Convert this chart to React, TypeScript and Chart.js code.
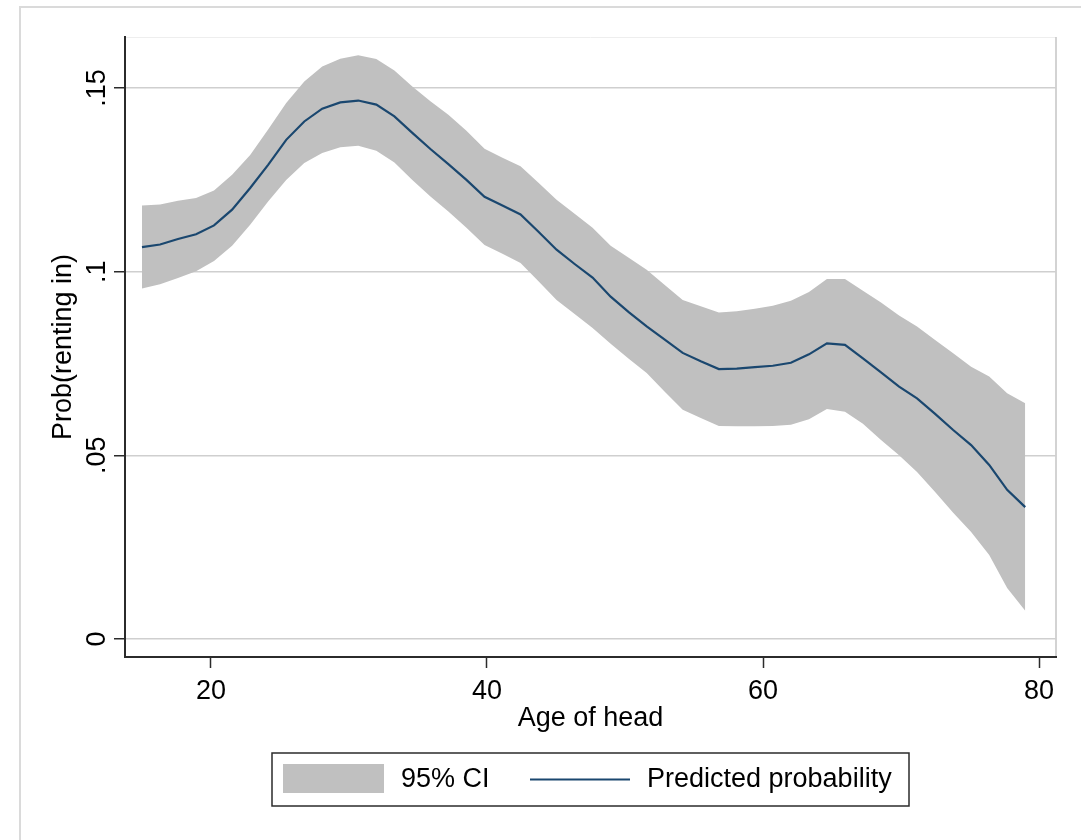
import React, { useEffect, useRef } from 'react';
import { Chart, registerables } from 'chart.js';

Chart.register(...registerables);

// ---------- data ----------
const ages = [
  15.0, 16.31, 17.61, 18.92, 20.22, 21.53, 22.84, 24.14, 25.45, 26.76,
  28.06, 29.37, 30.67, 31.98, 33.29, 34.59, 35.9, 37.2, 38.51, 39.82,
  41.12, 42.43, 43.73, 45.04, 46.35, 47.65, 48.96, 50.27, 51.57, 52.88,
  54.18, 55.49, 56.8, 58.1, 59.41, 60.71, 62.02, 63.33, 64.63, 65.94,
  67.24, 68.55, 69.86, 71.16, 72.47, 73.78, 75.08, 76.39, 77.69, 79.0,
];

const predicted = [
  0.1067, 0.1074, 0.1089, 0.1102, 0.1126, 0.1169, 0.1228, 0.1291, 0.1359, 0.1409,
  0.1444, 0.1461, 0.1466, 0.1455, 0.1423, 0.1378, 0.1334, 0.1293, 0.125, 0.1204,
  0.118, 0.1156, 0.1109, 0.106, 0.1021, 0.0984, 0.0932, 0.089, 0.0851, 0.0815,
  0.0779, 0.0756, 0.0735, 0.0736, 0.074, 0.0744, 0.0752, 0.0775, 0.0805, 0.0801,
  0.0764, 0.0726, 0.0687, 0.0655, 0.0613, 0.0569, 0.0528, 0.0474, 0.0406, 0.0359,
];

const ciUpper = [
  0.118, 0.1183, 0.1193, 0.1201, 0.1221, 0.1264, 0.1318, 0.1387, 0.1459, 0.1518,
  0.1559, 0.158, 0.1589, 0.1579, 0.1548, 0.1504, 0.1464, 0.1427, 0.1384, 0.1335,
  0.131, 0.1287, 0.1242, 0.1196, 0.1158, 0.112, 0.1071, 0.1038, 0.1005, 0.0964,
  0.0923, 0.0906, 0.0889, 0.0892, 0.0899, 0.0907, 0.0921, 0.0945, 0.098, 0.098,
  0.0948, 0.0916, 0.0881, 0.0851, 0.0814, 0.0778, 0.0741, 0.0715, 0.0669, 0.0642,
];

const ciLower = [
  0.0954, 0.0966, 0.0983, 0.1001, 0.1029, 0.1071, 0.1128, 0.1191, 0.125, 0.1296,
  0.1323, 0.1339, 0.1343, 0.1329, 0.1297, 0.125, 0.1205, 0.1164, 0.112, 0.1073,
  0.1049, 0.1024, 0.0974, 0.0923, 0.0885, 0.0847, 0.0804, 0.0763, 0.0724, 0.0673,
  0.0624, 0.0602, 0.058, 0.0579, 0.0579, 0.058, 0.0583, 0.0598, 0.0626, 0.0619,
  0.0586, 0.0542, 0.05, 0.0455, 0.04, 0.0344, 0.0291, 0.0229, 0.0139, 0.0077,
];

const xTickValues = [20, 40, 60, 80];
const xTickLabels = ['20', '40', '60', '80'];
const yTickValues = [0, 0.05, 0.1, 0.15];
const yTickLabels = ['0', '.05', '.1', '.15'];

const xTitle = 'Age of head';
const yTitle = 'Prob(renting in)';
const legendLabels = ['95% CI', 'Predicted probability'];

// ---------- styles ----------
const FONT = "'Liberation Sans', Arial, Helvetica, sans-serif";
const CI_COLOR = '#c0c0c0';
const LINE_COLOR = '#1a476f';
const AXIS_COLOR = '#2b2b2b';

const decorPlugin = {
  id: 'stataDecor',
  beforeDraw(chart: any) {
    const ctx = chart.ctx;
    const { left, right, top, bottom } = chart.chartArea;
    ctx.save();
    ctx.fillStyle = '#ffffff';
    ctx.fillRect(0, 0, chart.width, chart.height);
    // outer graph-region frame
    ctx.strokeStyle = '#dadada';
    ctx.lineWidth = 2;
    ctx.beginPath();
    ctx.moveTo(20, chart.height + 2);
    ctx.lineTo(20, 7);
    ctx.lineTo(chart.width + 2, 7);
    ctx.stroke();
    // plot region outline
    ctx.strokeStyle = '#eeeeee';
    ctx.lineWidth = 1;
    ctx.beginPath();
    ctx.moveTo(left, top + 0.5);
    ctx.lineTo(right, top + 0.5);
    ctx.stroke();
    ctx.strokeStyle = '#c4c4c4';
    ctx.lineWidth = 1.5;
    ctx.beginPath();
    ctx.moveTo(right, top);
    ctx.lineTo(right, bottom);
    ctx.stroke();
    ctx.restore();
  },
  afterDraw(chart: any) {
    const ctx = chart.ctx;
    const { left, right } = chart.chartArea;
    const boxW = 637;
    const boxH = 53;
    const bx = Math.round((left + right) / 2 - boxW / 2);
    const by = 753;
    const cy = by + boxH / 2;
    ctx.save();
    ctx.fillStyle = '#ffffff';
    ctx.fillRect(bx, by, boxW, boxH);
    ctx.strokeStyle = AXIS_COLOR;
    ctx.lineWidth = 1.5;
    ctx.strokeRect(bx, by, boxW, boxH);
    // CI swatch
    ctx.fillStyle = CI_COLOR;
    ctx.fillRect(bx + 11, by + 11, 101, 29);
    // line swatch
    ctx.strokeStyle = LINE_COLOR;
    ctx.lineWidth = 2.2;
    ctx.beginPath();
    ctx.moveTo(bx + 258, cy);
    ctx.lineTo(bx + 358, cy);
    ctx.stroke();
    // labels
    ctx.fillStyle = '#000000';
    ctx.font = `27px ${FONT}`;
    ctx.textAlign = 'left';
    ctx.textBaseline = 'middle';
    ctx.fillText(legendLabels[0], bx + 129, cy);
    ctx.fillText(legendLabels[1], bx + 375, cy);
    ctx.restore();
  },
};

export default function App() {
  const canvasRef = useRef<HTMLCanvasElement | null>(null);

  useEffect(() => {
    if (!canvasRef.current) return;
    Chart.defaults.font.family = FONT;
    Chart.defaults.font.size = 27;
    Chart.defaults.color = '#000000';

    const toPts = (vals: number[]) => ages.map((a, i) => ({ x: a, y: vals[i] }));

    const chart = new Chart(canvasRef.current, {
      type: 'line',
      data: {
        datasets: [
          {
            label: legendLabels[0],
            data: toPts(ciUpper),
            fill: '+1',
            backgroundColor: CI_COLOR,
            borderColor: 'rgba(0,0,0,0)',
            borderWidth: 0,
            pointRadius: 0,
            tension: 0,
            order: 2,
          },
          {
            label: 'lower',
            data: toPts(ciLower),
            fill: false,
            borderColor: 'rgba(0,0,0,0)',
            borderWidth: 0,
            pointRadius: 0,
            tension: 0,
            order: 3,
          },
          {
            label: legendLabels[1],
            data: toPts(predicted),
            fill: false,
            borderColor: LINE_COLOR,
            borderWidth: 2.2,
            pointRadius: 0,
            tension: 0,
            order: 0,
          },
        ],
      },
      options: {
        responsive: false,
        animation: false,
        devicePixelRatio: 1,
        events: [],
        layout: { padding: { left: 0, top: 37, right: 25, bottom: 105 } },
        plugins: {
          legend: { display: false },
          tooltip: { enabled: false },
        },
        scales: {
          x: {
            type: 'linear',
            min: 13.77,
            max: 81.23,
            afterBuildTicks: (s: any) => {
              s.ticks = xTickValues.map((v) => ({ value: v }));
            },
            afterFit: (s: any) => {
              s.height = 78;
            },
            grid: {
              drawOnChartArea: false,
              drawTicks: true,
              tickLength: 11,
              tickColor: AXIS_COLOR,
              tickWidth: 1.5,
            },
            border: { color: AXIS_COLOR, width: 2 },
            ticks: {
              padding: 7,
              autoSkip: false,
              maxRotation: 0,
              color: '#000000',
              font: { size: 27, family: FONT },
              callback: (_v: any, i: number) => xTickLabels[i],
            },
            title: {
              display: true,
              text: xTitle,
              color: '#000000',
              font: { size: 27, family: FONT },
              padding: 0,
            },
          },
          y: {
            type: 'linear',
            min: -0.0049,
            max: 0.1639,
            afterBuildTicks: (s: any) => {
              s.ticks = yTickValues.map((v) => ({ value: v }));
            },
            afterFit: (s: any) => {
              s.width = 125;
            },
            grid: {
              color: '#cfcfcf',
              lineWidth: 1.5,
              drawTicks: true,
              tickLength: 11,
              tickColor: AXIS_COLOR,
              tickWidth: 1.5,
            },
            border: { color: AXIS_COLOR, width: 2 },
            ticks: {
              padding: -2,
              autoSkip: false,
              minRotation: 90,
              maxRotation: 90,
              crossAlign: 'center',
              color: '#000000',
              font: { size: 27, family: FONT },
              callback: (_v: any, i: number) => yTickLabels[i],
            },
            title: {
              display: true,
              text: yTitle,
              color: '#000000',
              font: { size: 27, family: FONT },
              padding: { top: 47, bottom: 0 },
            },
          },
        },
      },
      plugins: [decorPlugin],
    } as any);

    return () => chart.destroy();
  }, []);

  return (
    <div style={{ position: 'absolute', left: 0, top: 0, width: 1081, height: 840, background: '#fff' }}>
      <canvas ref={canvasRef} width={1081} height={840} style={{ display: 'block' }} />
    </div>
  );
}
